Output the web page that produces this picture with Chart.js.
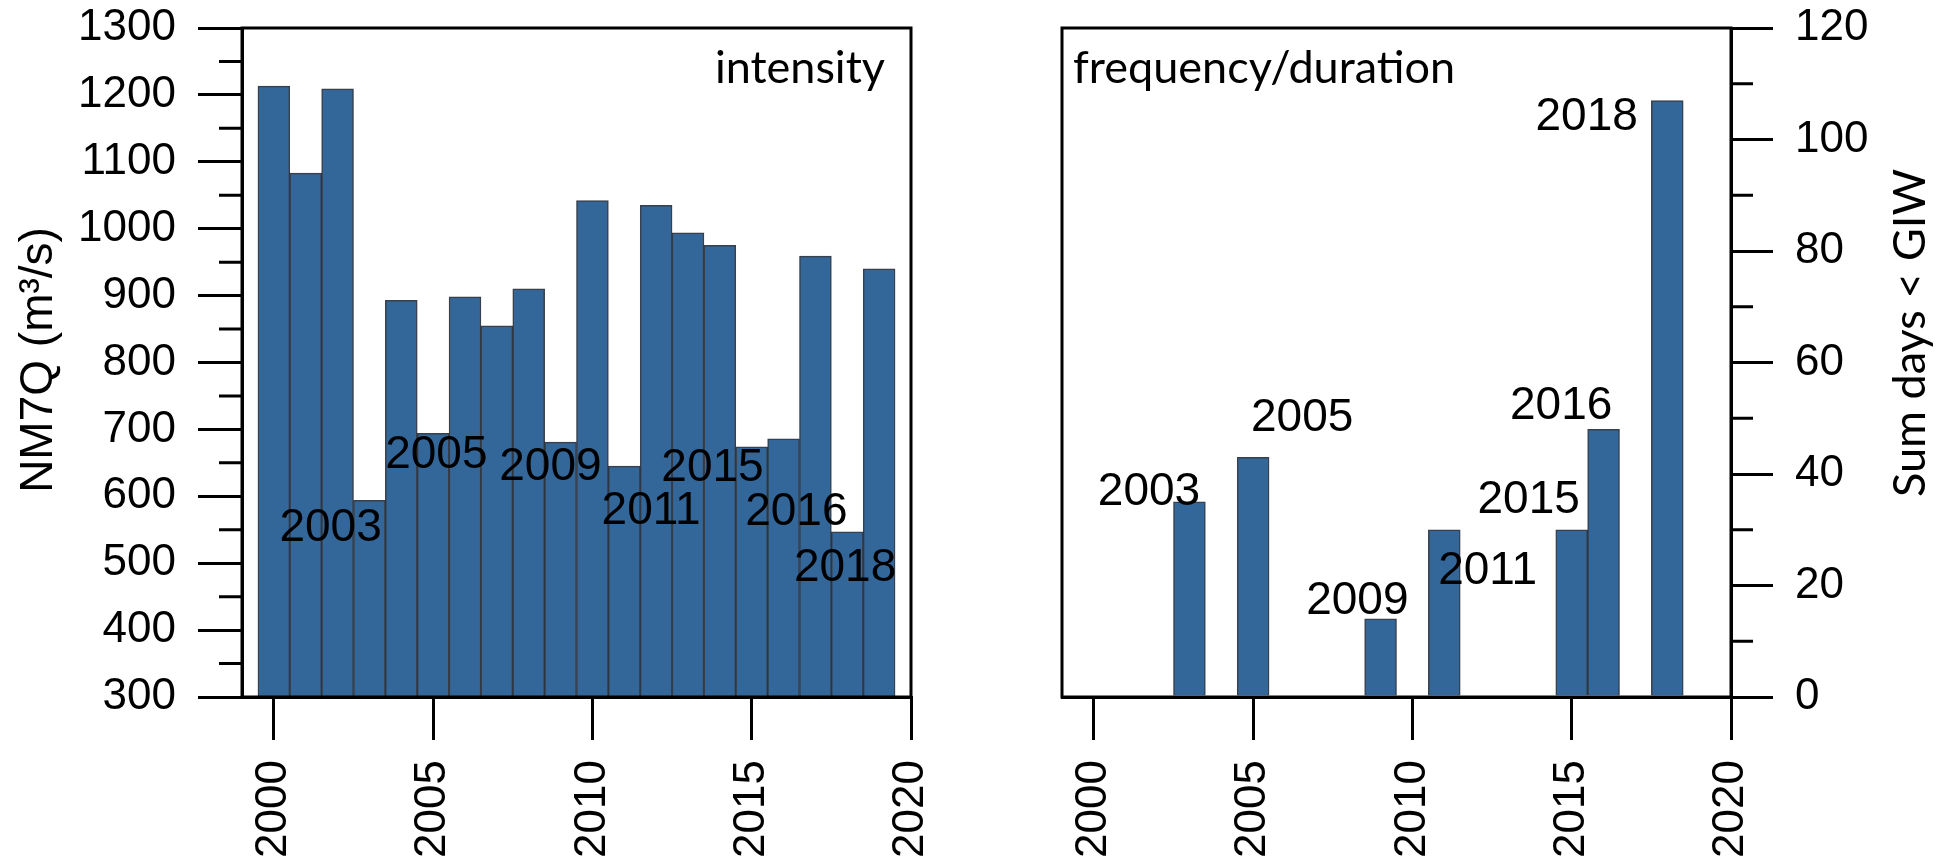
<!DOCTYPE html>
<html>
<head>
<meta charset="utf-8">
<script src="https://cdn.jsdelivr.net/npm/chart.js@4.4.1/dist/chart.umd.min.js"></script>
<style>
  body { margin: 0; background: #fff; }
  canvas { position: absolute; top: 0; }
  #left { left: 0; }
  #right { left: 975px; }
</style>
</head>
<body>
<canvas id="left" width="975" height="866"></canvas>
<canvas id="right" width="975" height="866"></canvas>
<script>
// intensity panel
const years = [2000, 2001, 2002, 2003, 2004, 2005, 2006, 2007, 2008, 2009,
               2010, 2011, 2012, 2013, 2014, 2015, 2016, 2017, 2018, 2019];
const nm7q = [1213, 1083, 1209, 594, 893, 694, 898, 855, 910, 681,
              1042, 645, 1035, 994, 975, 674, 686, 959, 547, 940];

// frequency/duration panel
const droughtYears = [2003, 2005, 2009, 2011, 2015, 2016, 2018];
const sumDays = [35, 43, 14, 30, 30, 48, 107];

// year labels, placed in data units
const leftLabelX = [2001.78, 2005.1, 2008.68, 2011.84, 2013.77, 2016.4, 2017.93];
const leftLabelY = [552, 661, 643, 577, 642, 576, 492];
const rightLabelX = [2001.73, 2006.54, 2008.27, 2012.36, 2013.65, 2014.67, 2015.47];
const rightLabelY = [36.7, 49.9, 17.1, 22.5, 35.2, 52.1, 103.9];

// ticks
const xTicks = [2000, 2005, 2010, 2015, 2020];
const leftTicks = [300, 400, 500, 600, 700, 800, 900, 1000, 1100, 1200, 1300];
const leftMinor = [350, 450, 550, 650, 750, 850, 950, 1050, 1150, 1250];
const rightTicks = [0, 20, 40, 60, 80, 100, 120];
const rightMinor = [10, 30, 50, 70, 90, 110];

const barColor = '#336699';
const arial = "'Liberation Sans', Arial, sans-serif";
const lato = "Lato, 'Open Sans', sans-serif";

Chart.defaults.font.family = arial;
Chart.defaults.color = '#000';

// axes get a fixed size and no extra label padding, so the plot box sits where we want it
function fixSize(s, w, h) {
    if (w !== null) s.width = w;
    if (h !== null) s.height = h;
    s.paddingTop = 0;
    s.paddingBottom = 0;
    s.paddingLeft = 0;
    s.paddingRight = 0;
}

function xScale() {
    return {
        type: 'linear',
        min: 1999,
        max: 2020,
        offset: false,
        afterBuildTicks: s => { s.ticks = xTicks.map(v => ({value: v})); },
        afterFit: s => fixSize(s, null, 169),
        border: {display: true, width: 3, color: '#000'},
        grid: {offset: false, drawOnChartArea: false, tickLength: 43, lineWidth: 3, color: '#000'},
        ticks: {font: {size: 44}, minRotation: 90, maxRotation: 90, padding: 20,
                callback: v => String(v)}
    };
}

// box, minor ticks and text drawn on top of the chart
function panelPlugin(cfg) {
    return {
        id: 'panel',
        afterDraw(chart) {
            const ctx = chart.ctx;
            const a = chart.chartArea;
            const ys = chart.scales.y;
            const xs = chart.scales.x;
            ctx.save();
            ctx.strokeStyle = '#000';
            ctx.lineWidth = 3;
            ctx.strokeRect(a.left, a.top, a.right - a.left, a.bottom - a.top);

            ctx.beginPath();
            for (const v of cfg.minor) {
                const py = ys.getPixelForValue(v);
                if (cfg.side === 'left') {
                    ctx.moveTo(a.left, py); ctx.lineTo(a.left - 23, py);
                } else {
                    ctx.moveTo(a.right, py); ctx.lineTo(a.right + 22, py);
                }
            }
            ctx.stroke();

            ctx.fillStyle = '#000';
            ctx.font = '46px ' + arial;
            ctx.textAlign = 'center';
            ctx.textBaseline = 'middle';
            for (let i = 0; i < cfg.labels.length; i++) {
                ctx.fillText(String(cfg.labels[i]), xs.getPixelForValue(cfg.lx[i]), ys.getPixelForValue(cfg.ly[i]));
            }

            ctx.textBaseline = 'alphabetic';
            ctx.font = '45px ' + lato;
            if (cfg.side === 'left') {
                ctx.textAlign = 'right';
                ctx.fillText(cfg.tag, a.right - 26, a.top + 55);
            } else {
                ctx.textAlign = 'left';
                ctx.fillText(cfg.tag, a.left + 11, a.top + 55);
            }

            ctx.translate(cfg.titleX, cfg.titleY);
            ctx.rotate(-Math.PI / 2);
            ctx.textAlign = 'center';
            ctx.font = cfg.titleFont;
            ctx.fillText(cfg.title, 0, 0);
            ctx.restore();
        }
    };
}

new Chart(document.getElementById('left'), {
    type: 'bar',
    data: {
        datasets: [{
            data: years.map((y, i) => ({x: y, y: nm7q[i]})),
            backgroundColor: barColor,
            borderColor: 'rgba(20,30,45,0.85)',
            borderWidth: 1.5,
            barPercentage: 1,
            categoryPercentage: 1
        }]
    },
    options: {
        responsive: false,
        animation: false,
        layout: {padding: {left: 0, top: 28, right: 64, bottom: 0}},
        plugins: {legend: {display: false}, tooltip: {enabled: false}},
        scales: {
            x: xScale(),
            y: {
                type: 'linear',
                position: 'left',
                min: 300,
                max: 1300,
                afterBuildTicks: s => { s.ticks = leftTicks.map(v => ({value: v})); },
                afterFit: s => fixSize(s, 242, null),
                border: {display: true, width: 3, color: '#000'},
                grid: {drawOnChartArea: false, tickLength: 44, lineWidth: 3, color: '#000'},
                ticks: {font: {size: 44}, padding: 22, callback: v => String(v)}
            }
        }
    },
    plugins: [panelPlugin({
        side: 'left', minor: leftMinor, labels: droughtYears,
        lx: leftLabelX, ly: leftLabelY, tag: 'intensity',
        title: 'NM7Q (m³/s)', titleX: 52, titleY: 360, titleFont: '46px ' + arial
    })]
});

new Chart(document.getElementById('right'), {
    type: 'bar',
    data: {
        datasets: [{
            data: droughtYears.map((y, i) => ({x: y, y: sumDays[i]})),
            backgroundColor: barColor,
            borderColor: 'rgba(20,30,45,0.85)',
            borderWidth: 1.5,
            barPercentage: 1,
            categoryPercentage: 1
        }]
    },
    options: {
        responsive: false,
        animation: false,
        layout: {padding: {left: 87, top: 28, right: 0, bottom: 0}},
        plugins: {legend: {display: false}, tooltip: {enabled: false}},
        scales: {
            x: xScale(),
            y: {
                type: 'linear',
                position: 'right',
                min: 0,
                max: 120,
                afterBuildTicks: s => { s.ticks = rightTicks.map(v => ({value: v})); },
                afterFit: s => fixSize(s, 219, null),
                border: {display: true, width: 3, color: '#000'},
                grid: {drawOnChartArea: false, tickLength: 42, lineWidth: 3, color: '#000'},
                ticks: {font: {size: 44}, padding: 22, callback: v => String(v)}
            }
        }
    },
    plugins: [panelPlugin({
        side: 'right', minor: rightMinor, labels: droughtYears,
        lx: rightLabelX, ly: rightLabelY, tag: 'frequency/duration',
        title: 'Sum days < GIW', titleX: 950, titleY: 333, titleFont: '45px ' + lato
    })]
});
</script>
</body>
</html>
